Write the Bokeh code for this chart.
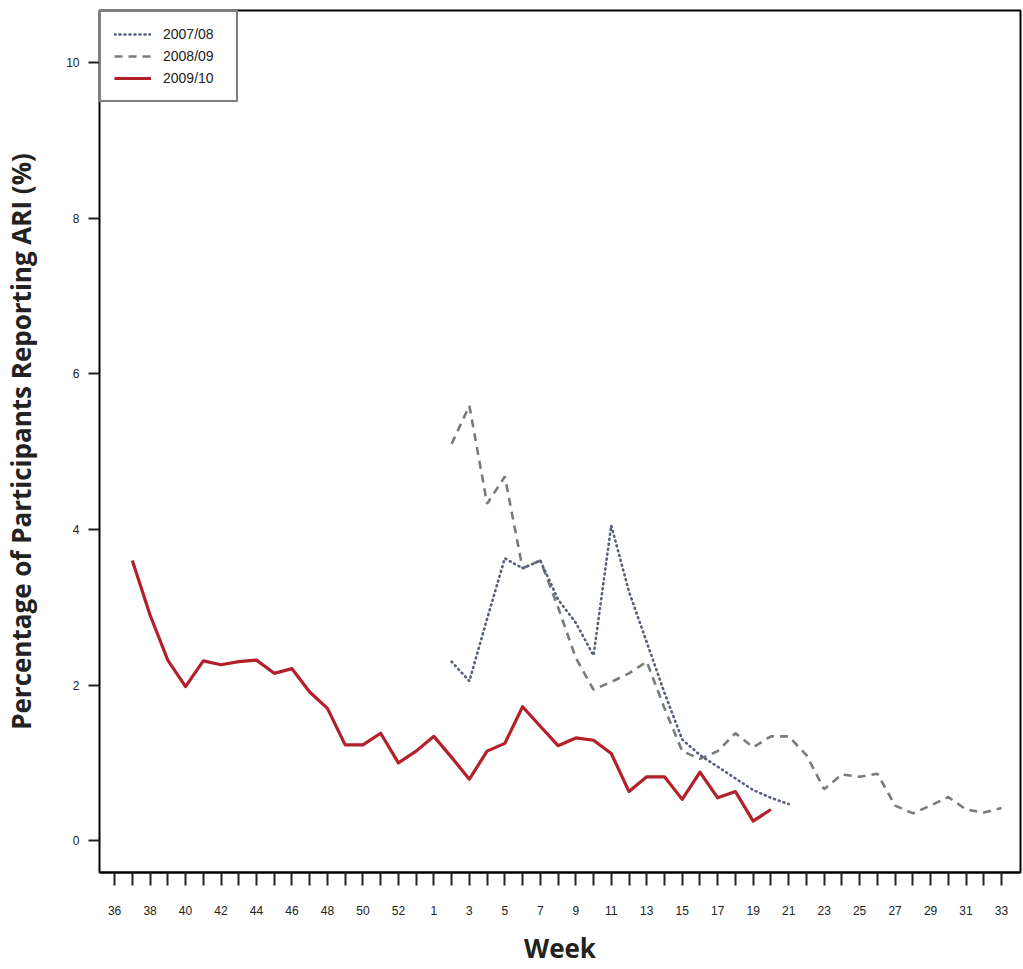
from bokeh.plotting import figure
from bokeh.models import FixedTicker, Range1d, Legend, LegendItem
from bokeh.embed import file_html
from bokeh.resources import INLINE

# Week axis (2009 had an ISO week 53)
weeks = list(range(36, 54)) + list(range(1, 34))

# Series: week numbers and percentage reporting ARI
s0708_weeks = list(range(2, 22))
s0708_vals = [2.30, 2.05, 2.85, 3.63, 3.50, 3.60, 3.10, 2.80, 2.38, 4.05,
              3.20, 2.55, 1.90, 1.30, 1.10, 0.95, 0.80, 0.65, 0.55, 0.47]

s0809_weeks = list(range(2, 34))
s0809_vals = [5.10, 5.59, 4.33, 4.68, 3.50, 3.60, 3.00, 2.35, 1.94, 2.04,
              2.15, 2.30, 1.70, 1.15, 1.05, 1.15, 1.38, 1.20, 1.34, 1.34,
              1.10, 0.66, 0.85, 0.82, 0.86, 0.45, 0.35, 0.45, 0.56, 0.40,
              0.36, 0.42]

s0910_weeks = list(range(37, 54)) + list(range(1, 21))
s0910_vals = [3.60, 2.90, 2.32, 1.98, 2.31, 2.26, 2.30, 2.32, 2.15, 2.21,
              1.91, 1.70, 1.23, 1.23, 1.38, 1.00, 1.15, 1.34, 1.07, 0.79,
              1.15, 1.25, 1.72, 1.47, 1.22, 1.32, 1.29, 1.12, 0.63, 0.82,
              0.82, 0.53, 0.88, 0.55, 0.63, 0.25, 0.40]

series_labels = ["2007/08", "2008/09", "2009/10"]
y_ticks = [0, 2, 4, 6, 8, 10]


def to_index(wk_list, start_after_new_year):
    """Map week numbers to positions along the week axis."""
    out = []
    passed = False
    for w in wk_list:
        if not passed and w < 36:
            passed = True
        if passed or start_after_new_year:
            out.append(weeks.index(w, 18))
        else:
            out.append(weeks.index(w))
    return out


x0708 = to_index(s0708_weeks, True)
x0809 = to_index(s0809_weeks, True)
x0910 = to_index(s0910_weeks, False)

p = figure(width=1022, height=968, output_backend="svg", toolbar_location=None,
           x_range=Range1d(-0.85, 51.07), y_range=Range1d(-0.41, 10.67),
           min_border_left=99, min_border_right=2, min_border_top=10,
           min_border_bottom=95)

p.xgrid.visible = False
p.ygrid.visible = False
p.outline_line_color = "black"
p.outline_line_width = 2
p.background_fill_color = "white"

r_dash = p.line(x0809, s0809_vals, line_color="#767d78", line_width=2.6,
                line_dash="8 6")
r_dot = p.line(x0708, s0708_vals, line_color="#56607c", line_width=2.6,
               line_dash="1 4", line_cap="round")
r_red = p.line(x0910, s0910_vals, line_color="#b3202a", line_width=3.2,
               line_join="round")

# X axis
xa = p.xaxis[0]
xa.ticker = FixedTicker(ticks=list(range(0, len(weeks), 2)),
                        minor_ticks=list(range(1, len(weeks), 2)))
xa.major_label_overrides = {i: str(weeks[i]) for i in range(0, len(weeks), 2)}
xa.axis_line_color = "black"
xa.axis_line_width = 2
xa.major_tick_in = 0
xa.minor_tick_in = 0
xa.major_tick_out = 13
xa.minor_tick_out = 13
xa.major_tick_line_width = 2
xa.minor_tick_line_width = 2
xa.major_tick_line_color = "#222222"
xa.minor_tick_line_color = "#222222"
xa.major_label_text_font = "Liberation Sans"
xa.major_label_text_font_size = "12px"
xa.major_label_text_color = "#222222"
xa.major_label_standoff = 20
xa.axis_label = "Week"
xa.axis_label_text_font = "Open Sans"
xa.axis_label_text_font_style = "bold"
xa.axis_label_text_font_size = "26px"
xa.axis_label_text_color = "#222222"
xa.axis_label_standoff = 12

# Y axis
ya = p.yaxis[0]
ya.ticker = FixedTicker(ticks=y_ticks, minor_ticks=[])
ya.axis_line_color = None
ya.major_tick_in = 0
ya.major_tick_out = 11
ya.major_tick_line_width = 2
ya.major_tick_line_color = "#222222"
ya.major_label_text_font = "Liberation Sans"
ya.major_label_text_font_size = "12px"
ya.major_label_text_color = "#222222"
ya.major_label_standoff = 9
ya.axis_label = "Percentage of Participants Reporting ARI (%)"
ya.axis_label_text_font = "Open Sans"
ya.axis_label_text_font_style = "bold"
ya.axis_label_text_font_size = "26px"
ya.axis_label_text_color = "#222222"
ya.axis_label_standoff = 24

legend = Legend(items=[LegendItem(label=series_labels[0], renderers=[r_dot]),
                       LegendItem(label=series_labels[1], renderers=[r_dash]),
                       LegendItem(label=series_labels[2], renderers=[r_red])],
                location="top_left")
legend.margin = 0
legend.padding = 13
legend.spacing = 4
legend.glyph_height = 18
legend.label_height = 18
legend.glyph_width = 37
legend.label_width = 60
legend.label_standoff = 12
legend.label_text_font = "Liberation Sans"
legend.label_text_font_size = "14px"
legend.label_text_color = "#222222"
legend.border_line_color = "black"
legend.border_line_width = 2
legend.background_fill_alpha = 1
p.add_layout(legend)

open("out.html", "w").write(file_html(p, INLINE))
